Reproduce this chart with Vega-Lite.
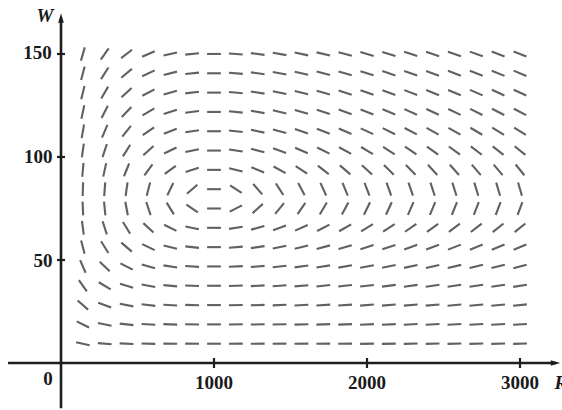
{
  "$schema": "https://vega.github.io/schema/vega-lite/v6.json",
  "width": 562,
  "height": 410,
  "padding": 0,
  "autosize": {"type": "none"},
  "config": {"view": {"stroke": null}, "background": "white"},
  "datasets": {
    "field": [
      {"W":9.375,"R":142.9,"rot":12.1},{"W":9.375,"R":285.7,"rot":5.1},{"W":9.375,"R":428.6,"rot":2.7},{"W":9.375,"R":571.4,"rot":1.5},{"W":9.375,"R":714.3,"rot":0.8},{"W":9.375,"R":857.1,"rot":0.3},{"W":9.375,"R":1000,"rot":0},{"W":9.375,"R":1142.9,"rot":-0.3},{"W":9.375,"R":1285.7,"rot":-0.5},{"W":9.375,"R":1428.6,"rot":-0.6},{"W":9.375,"R":1571.4,"rot":-0.7},{"W":9.375,"R":1714.3,"rot":-0.9},{"W":9.375,"R":1857.1,"rot":-0.9},{"W":9.375,"R":2000,"rot":-1},{"W":9.375,"R":2142.9,"rot":-1.1},{"W":9.375,"R":2285.7,"rot":-1.2},{"W":9.375,"R":2428.6,"rot":-1.2},{"W":9.375,"R":2571.4,"rot":-1.3},{"W":9.375,"R":2714.3,"rot":-1.3},{"W":9.375,"R":2857.1,"rot":-1.3},{"W":9.375,"R":3000,"rot":-1.4},
      {"W":18.75,"R":142.9,"rot":26.3},{"W":18.75,"R":285.7,"rot":11.6},{"W":18.75,"R":428.6,"rot":6.3},{"W":18.75,"R":571.4,"rot":3.5},{"W":18.75,"R":714.3,"rot":1.9},{"W":18.75,"R":857.1,"rot":0.8},{"W":18.75,"R":1000,"rot":0},{"W":18.75,"R":1142.9,"rot":-0.6},{"W":18.75,"R":1285.7,"rot":-1.1},{"W":18.75,"R":1428.6,"rot":-1.4},{"W":18.75,"R":1571.4,"rot":-1.7},{"W":18.75,"R":1714.3,"rot":-2},{"W":18.75,"R":1857.1,"rot":-2.2},{"W":18.75,"R":2000,"rot":-2.4},{"W":18.75,"R":2142.9,"rot":-2.5},{"W":18.75,"R":2285.7,"rot":-2.7},{"W":18.75,"R":2428.6,"rot":-2.8},{"W":18.75,"R":2571.4,"rot":-2.9},{"W":18.75,"R":2714.3,"rot":-3},{"W":18.75,"R":2857.1,"rot":-3.1},{"W":18.75,"R":3000,"rot":-3.2},
      {"W":28.125,"R":142.9,"rot":41.2},{"W":28.125,"R":285.7,"rot":20.1},{"W":28.125,"R":428.6,"rot":11},{"W":28.125,"R":571.4,"rot":6.3},{"W":28.125,"R":714.3,"rot":3.3},{"W":28.125,"R":857.1,"rot":1.4},{"W":28.125,"R":1000,"rot":0},{"W":28.125,"R":1142.9,"rot":-1},{"W":28.125,"R":1285.7,"rot":-1.9},{"W":28.125,"R":1428.6,"rot":-2.5},{"W":28.125,"R":1571.4,"rot":-3},{"W":28.125,"R":1714.3,"rot":-3.5},{"W":28.125,"R":1857.1,"rot":-3.9},{"W":28.125,"R":2000,"rot":-4.2},{"W":28.125,"R":2142.9,"rot":-4.5},{"W":28.125,"R":2285.7,"rot":-4.7},{"W":28.125,"R":2428.6,"rot":-4.9},{"W":28.125,"R":2571.4,"rot":-5.1},{"W":28.125,"R":2714.3,"rot":-5.3},{"W":28.125,"R":2857.1,"rot":-5.4},{"W":28.125,"R":3000,"rot":-5.6},
      {"W":37.5,"R":142.9,"rot":55},{"W":37.5,"R":285.7,"rot":30.7},{"W":37.5,"R":428.6,"rot":17.6},{"W":37.5,"R":571.4,"rot":10.1},{"W":37.5,"R":714.3,"rot":5.4},{"W":37.5,"R":857.1,"rot":2.3},{"W":37.5,"R":1000,"rot":0},{"W":37.5,"R":1142.9,"rot":-1.7},{"W":37.5,"R":1285.7,"rot":-3},{"W":37.5,"R":1428.6,"rot":-4.1},{"W":37.5,"R":1571.4,"rot":-4.9},{"W":37.5,"R":1714.3,"rot":-5.7},{"W":37.5,"R":1857.1,"rot":-6.3},{"W":37.5,"R":2000,"rot":-6.8},{"W":37.5,"R":2142.9,"rot":-7.2},{"W":37.5,"R":2285.7,"rot":-7.6},{"W":37.5,"R":2428.6,"rot":-8},{"W":37.5,"R":2571.4,"rot":-8.3},{"W":37.5,"R":2714.3,"rot":-8.5},{"W":37.5,"R":2857.1,"rot":-8.8},{"W":37.5,"R":3000,"rot":-9},
      {"W":46.875,"R":142.9,"rot":66.4},{"W":46.875,"R":285.7,"rot":43.6},{"W":46.875,"R":428.6,"rot":26.9},{"W":46.875,"R":571.4,"rot":16},{"W":46.875,"R":714.3,"rot":8.7},{"W":46.875,"R":857.1,"rot":3.6},{"W":46.875,"R":1000,"rot":0},{"W":46.875,"R":1142.9,"rot":-2.7},{"W":46.875,"R":1285.7,"rot":-4.8},{"W":46.875,"R":1428.6,"rot":-6.5},{"W":46.875,"R":1571.4,"rot":-7.9},{"W":46.875,"R":1714.3,"rot":-9},{"W":46.875,"R":1857.1,"rot":-10},{"W":46.875,"R":2000,"rot":-10.8},{"W":46.875,"R":2142.9,"rot":-11.5},{"W":46.875,"R":2285.7,"rot":-12.1},{"W":46.875,"R":2428.6,"rot":-12.6},{"W":46.875,"R":2571.4,"rot":-13.1},{"W":46.875,"R":2714.3,"rot":-13.5},{"W":46.875,"R":2857.1,"rot":-13.9},{"W":46.875,"R":3000,"rot":-14.3},
      {"W":56.25,"R":142.9,"rot":75.4},{"W":56.25,"R":285.7,"rot":57.9},{"W":56.25,"R":428.6,"rot":40.4},{"W":56.25,"R":571.4,"rot":25.6},{"W":56.25,"R":714.3,"rot":14.3},{"W":56.25,"R":857.1,"rot":6.1},{"W":56.25,"R":1000,"rot":0},{"W":56.25,"R":1142.9,"rot":-4.6},{"W":56.25,"R":1285.7,"rot":-8.1},{"W":56.25,"R":1428.6,"rot":-10.8},{"W":56.25,"R":1571.4,"rot":-13.1},{"W":56.25,"R":1714.3,"rot":-14.9},{"W":56.25,"R":1857.1,"rot":-16.4},{"W":56.25,"R":2000,"rot":-17.7},{"W":56.25,"R":2142.9,"rot":-18.8},{"W":56.25,"R":2285.7,"rot":-19.7},{"W":56.25,"R":2428.6,"rot":-20.6},{"W":56.25,"R":2571.4,"rot":-21.3},{"W":56.25,"R":2714.3,"rot":-21.9},{"W":56.25,"R":2857.1,"rot":-22.5},{"W":56.25,"R":3000,"rot":-23},
      {"W":65.625,"R":142.9,"rot":82.3},{"W":65.625,"R":285.7,"rot":72},{"W":65.625,"R":428.6,"rot":58.6},{"W":65.625,"R":571.4,"rot":42.7},{"W":65.625,"R":714.3,"rot":26.2},{"W":65.625,"R":857.1,"rot":11.6},{"W":65.625,"R":1000,"rot":0},{"W":65.625,"R":1142.9,"rot":-8.7},{"W":65.625,"R":1285.7,"rot":-15.3},{"W":65.625,"R":1428.6,"rot":-20.3},{"W":65.625,"R":1571.4,"rot":-24.1},{"W":65.625,"R":1714.3,"rot":-27.1},{"W":65.625,"R":1857.1,"rot":-29.6},{"W":65.625,"R":2000,"rot":-31.6},{"W":65.625,"R":2142.9,"rot":-33.2},{"W":65.625,"R":2285.7,"rot":-34.7},{"W":65.625,"R":2428.6,"rot":-35.9},{"W":65.625,"R":2571.4,"rot":-36.9},{"W":65.625,"R":2714.3,"rot":-37.8},{"W":65.625,"R":2857.1,"rot":-38.6},{"W":65.625,"R":3000,"rot":-39.3},
      {"W":75,"R":142.9,"rot":87.6},{"W":75,"R":285.7,"rot":84.3},{"W":75,"R":428.6,"rot":79.5},{"W":75,"R":571.4,"rot":71.7},{"W":75,"R":714.3,"rot":58.3},{"W":75,"R":857.1,"rot":34},{"W":75,"R":1000,"rot":0},{"W":75,"R":1142.9,"rot":-26.8},{"W":75,"R":1285.7,"rot":-41.9},{"W":75,"R":1428.6,"rot":-50.5},{"W":75,"R":1571.4,"rot":-55.8},{"W":75,"R":1714.3,"rot":-59.3},{"W":75,"R":1857.1,"rot":-61.8},{"W":75,"R":2000,"rot":-63.7},{"W":75,"R":2142.9,"rot":-65.1},{"W":75,"R":2285.7,"rot":-66.3},{"W":75,"R":2428.6,"rot":-67.2},{"W":75,"R":2571.4,"rot":-68},{"W":75,"R":2714.3,"rot":-68.6},{"W":75,"R":2857.1,"rot":-69.2},{"W":75,"R":3000,"rot":-69.6},
      {"W":84.375,"R":142.9,"rot":-88.2},{"W":84.375,"R":285.7,"rot":-85.6},{"W":84.375,"R":428.6,"rot":-81.8},{"W":84.375,"R":571.4,"rot":-75.6},{"W":84.375,"R":714.3,"rot":-64.3},{"W":84.375,"R":857.1,"rot":-40.9},{"W":84.375,"R":1000,"rot":0},{"W":84.375,"R":1142.9,"rot":33},{"W":84.375,"R":1285.7,"rot":49.1},{"W":84.375,"R":1428.6,"rot":57.3},{"W":84.375,"R":1571.4,"rot":62.1},{"W":84.375,"R":1714.3,"rot":65.2},{"W":84.375,"R":1857.1,"rot":67.4},{"W":84.375,"R":2000,"rot":68.9},{"W":84.375,"R":2142.9,"rot":70.1},{"W":84.375,"R":2285.7,"rot":71.1},{"W":84.375,"R":2428.6,"rot":71.9},{"W":84.375,"R":2571.4,"rot":72.5},{"W":84.375,"R":2714.3,"rot":73.1},{"W":84.375,"R":2857.1,"rot":73.5},{"W":84.375,"R":3000,"rot":73.9},
      {"W":93.75,"R":142.9,"rot":-84.8},{"W":93.75,"R":285.7,"rot":-77.7},{"W":93.75,"R":428.6,"rot":-67.8},{"W":93.75,"R":571.4,"rot":-54},{"W":93.75,"R":714.3,"rot":-36.3},{"W":93.75,"R":857.1,"rot":-17},{"W":93.75,"R":1000,"rot":0},{"W":93.75,"R":1142.9,"rot":12.9},{"W":93.75,"R":1285.7,"rot":22.2},{"W":93.75,"R":1428.6,"rot":28.9},{"W":93.75,"R":1571.4,"rot":33.7},{"W":93.75,"R":1714.3,"rot":37.4},{"W":93.75,"R":1857.1,"rot":40.3},{"W":93.75,"R":2000,"rot":42.6},{"W":93.75,"R":2142.9,"rot":44.4},{"W":93.75,"R":2285.7,"rot":45.9},{"W":93.75,"R":2428.6,"rot":47.2},{"W":93.75,"R":2571.4,"rot":48.3},{"W":93.75,"R":2714.3,"rot":49.2},{"W":93.75,"R":2857.1,"rot":50},{"W":93.75,"R":3000,"rot":50.8},
      {"W":103.125,"R":142.9,"rot":-82.1},{"W":103.125,"R":285.7,"rot":-71.6},{"W":103.125,"R":428.6,"rot":-58},{"W":103.125,"R":571.4,"rot":-42},{"W":103.125,"R":714.3,"rot":-25.7},{"W":103.125,"R":857.1,"rot":-11.3},{"W":103.125,"R":1000,"rot":0},{"W":103.125,"R":1142.9,"rot":8.5},{"W":103.125,"R":1285.7,"rot":14.9},{"W":103.125,"R":1428.6,"rot":19.8},{"W":103.125,"R":1571.4,"rot":23.6},{"W":103.125,"R":1714.3,"rot":26.6},{"W":103.125,"R":1857.1,"rot":29},{"W":103.125,"R":2000,"rot":31},{"W":103.125,"R":2142.9,"rot":32.6},{"W":103.125,"R":2285.7,"rot":34},{"W":103.125,"R":2428.6,"rot":35.2},{"W":103.125,"R":2571.4,"rot":36.3},{"W":103.125,"R":2714.3,"rot":37.2},{"W":103.125,"R":2857.1,"rot":38},{"W":103.125,"R":3000,"rot":38.7},
      {"W":112.5,"R":142.9,"rot":-79.9},{"W":112.5,"R":285.7,"rot":-66.8},{"W":112.5,"R":428.6,"rot":-51.2},{"W":112.5,"R":571.4,"rot":-35},{"W":112.5,"R":714.3,"rot":-20.5},{"W":112.5,"R":857.1,"rot":-8.8},{"W":112.5,"R":1000,"rot":0},{"W":112.5,"R":1142.9,"rot":6.7},{"W":112.5,"R":1285.7,"rot":11.7},{"W":112.5,"R":1428.6,"rot":15.6},{"W":112.5,"R":1571.4,"rot":18.7},{"W":112.5,"R":1714.3,"rot":21.2},{"W":112.5,"R":1857.1,"rot":23.3},{"W":112.5,"R":2000,"rot":25},{"W":112.5,"R":2142.9,"rot":26.4},{"W":112.5,"R":2285.7,"rot":27.7},{"W":112.5,"R":2428.6,"rot":28.7},{"W":112.5,"R":2571.4,"rot":29.7},{"W":112.5,"R":2714.3,"rot":30.5},{"W":112.5,"R":2857.1,"rot":31.2},{"W":112.5,"R":3000,"rot":31.9},
      {"W":121.875,"R":142.9,"rot":-78},{"W":121.875,"R":285.7,"rot":-63},{"W":121.875,"R":428.6,"rot":-46.2},{"W":121.875,"R":571.4,"rot":-30.5},{"W":121.875,"R":714.3,"rot":-17.4},{"W":121.875,"R":857.1,"rot":-7.4},{"W":121.875,"R":1000,"rot":0},{"W":121.875,"R":1142.9,"rot":5.6},{"W":121.875,"R":1285.7,"rot":9.9},{"W":121.875,"R":1428.6,"rot":13.2},{"W":121.875,"R":1571.4,"rot":15.9},{"W":121.875,"R":1714.3,"rot":18.1},{"W":121.875,"R":1857.1,"rot":19.9},{"W":121.875,"R":2000,"rot":21.4},{"W":121.875,"R":2142.9,"rot":22.7},{"W":121.875,"R":2285.7,"rot":23.8},{"W":121.875,"R":2428.6,"rot":24.8},{"W":121.875,"R":2571.4,"rot":25.6},{"W":121.875,"R":2714.3,"rot":26.3},{"W":121.875,"R":2857.1,"rot":27},{"W":121.875,"R":3000,"rot":27.6},
      {"W":131.25,"R":142.9,"rot":-76.4},{"W":131.25,"R":285.7,"rot":-59.9},{"W":131.25,"R":428.6,"rot":-42.6},{"W":131.25,"R":571.4,"rot":-27.4},{"W":131.25,"R":714.3,"rot":-15.4},{"W":131.25,"R":857.1,"rot":-6.6},{"W":131.25,"R":1000,"rot":0},{"W":131.25,"R":1142.9,"rot":4.9},{"W":131.25,"R":1285.7,"rot":8.7},{"W":131.25,"R":1428.6,"rot":11.7},{"W":131.25,"R":1571.4,"rot":14.1},{"W":131.25,"R":1714.3,"rot":16},{"W":131.25,"R":1857.1,"rot":17.7},{"W":131.25,"R":2000,"rot":19},{"W":131.25,"R":2142.9,"rot":20.2},{"W":131.25,"R":2285.7,"rot":21.2},{"W":131.25,"R":2428.6,"rot":22.1},{"W":131.25,"R":2571.4,"rot":22.9},{"W":131.25,"R":2714.3,"rot":23.5},{"W":131.25,"R":2857.1,"rot":24.1},{"W":131.25,"R":3000,"rot":24.7},
      {"W":140.625,"R":142.9,"rot":-75.1},{"W":140.625,"R":285.7,"rot":-57.4},{"W":140.625,"R":428.6,"rot":-39.8},{"W":140.625,"R":571.4,"rot":-25.1},{"W":140.625,"R":714.3,"rot":-14},{"W":140.625,"R":857.1,"rot":-5.9},{"W":140.625,"R":1000,"rot":0},{"W":140.625,"R":1142.9,"rot":4.5},{"W":140.625,"R":1285.7,"rot":7.9},{"W":140.625,"R":1428.6,"rot":10.6},{"W":140.625,"R":1571.4,"rot":12.8},{"W":140.625,"R":1714.3,"rot":14.6},{"W":140.625,"R":1857.1,"rot":16.1},{"W":140.625,"R":2000,"rot":17.4},{"W":140.625,"R":2142.9,"rot":18.4},{"W":140.625,"R":2285.7,"rot":19.4},{"W":140.625,"R":2428.6,"rot":20.2},{"W":140.625,"R":2571.4,"rot":20.9},{"W":140.625,"R":2714.3,"rot":21.5},{"W":140.625,"R":2857.1,"rot":22.1},{"W":140.625,"R":3000,"rot":22.6},
      {"W":150,"R":142.9,"rot":-73.9},{"W":150,"R":285.7,"rot":-55.3},{"W":150,"R":428.6,"rot":-37.6},{"W":150,"R":571.4,"rot":-23.4},{"W":150,"R":714.3,"rot":-13},{"W":150,"R":857.1,"rot":-5.5},{"W":150,"R":1000,"rot":0},{"W":150,"R":1142.9,"rot":4.1},{"W":150,"R":1285.7,"rot":7.3},{"W":150,"R":1428.6,"rot":9.8},{"W":150,"R":1571.4,"rot":11.9},{"W":150,"R":1714.3,"rot":13.5},{"W":150,"R":1857.1,"rot":14.9},{"W":150,"R":2000,"rot":16.1},{"W":150,"R":2142.9,"rot":17.1},{"W":150,"R":2285.7,"rot":18},{"W":150,"R":2428.6,"rot":18.8},{"W":150,"R":2571.4,"rot":19.4},{"W":150,"R":2714.3,"rot":20},{"W":150,"R":2857.1,"rot":20.6},{"W":150,"R":3000,"rot":21.1}
    ],
    "axisLines": [
      {"R": -346, "R2": 3235, "W": 0, "W2": 0},
      {"R": 0, "R2": 0, "W": -22, "W2": 167}
    ],
    "xTicks": [{"R": 1000, "W": 0}, {"R": 2000, "W": 0}, {"R": 3000, "W": 0}],
    "yTicks": [{"R": 0, "W": 50}, {"R": 0, "W": 100}, {"R": 0, "W": 150}],
    "xArrow": [{"R": 3232, "W": 0}],
    "yArrow": [{"R": 0, "W": 167.5}],
    "xLabels": [
      {"R": 1000, "W": -9.7, "label": "1000"},
      {"R": 2000, "W": -9.7, "label": "2000"},
      {"R": 3000, "W": -9.7, "label": "3000"},
      {"R": -85, "W": -7.8, "label": "0"}
    ],
    "yLabels": [
      {"R": -56, "W": 49.5, "label": "50"},
      {"R": -56, "W": 100, "label": "100"},
      {"R": -60, "W": 150.5, "label": "150"}
    ],
    "wLabel": [{"R": -105, "W": 168.5, "label": "W"}],
    "rLabel": [{"R": 3226, "W": -9.7, "label": "R"}]
  },
  "encoding": {
    "x": {"field": "R", "type": "quantitative", "scale": {"domain": [-398.7, 3274.5], "nice": false, "zero": false}, "axis": null},
    "y": {"field": "W", "type": "quantitative", "scale": {"domain": [-22.8, 176.2], "nice": false, "zero": false}, "axis": null}
  },
  "layer": [
    {
      "data": {"name": "field"},
      "mark": {"type": "point", "shape": "M-1,0L1,0", "filled": false, "stroke": "#505050", "strokeWidth": 2.1, "size": 190, "opacity": 0.9},
      "encoding": {"angle": {"field": "rot", "type": "quantitative", "scale": null}}
    },
    {
      "data": {"name": "axisLines"},
      "mark": {"type": "rule", "color": "#1e1e1e", "strokeWidth": 2.6},
      "encoding": {
        "x2": {"field": "R2"},
        "y2": {"field": "W2"}
      }
    },
    {
      "data": {"name": "xTicks"},
      "mark": {"type": "point", "shape": "M0,-1L0,1", "filled": false, "stroke": "#1e1e1e", "strokeWidth": 2.2, "size": 100, "opacity": 1}
    },
    {
      "data": {"name": "yTicks"},
      "mark": {"type": "point", "shape": "M-1,0L1,0", "filled": false, "stroke": "#1e1e1e", "strokeWidth": 2.2, "size": 64, "opacity": 1}
    },
    {
      "data": {"name": "xArrow"},
      "mark": {"type": "point", "shape": "M1,0L-1,-0.6L-1,0.6Z", "filled": true, "color": "#1e1e1e", "size": 90, "opacity": 1}
    },
    {
      "data": {"name": "yArrow"},
      "mark": {"type": "point", "shape": "M0,-1L-0.6,1L0.6,1Z", "filled": true, "color": "#1e1e1e", "size": 90, "opacity": 1}
    },
    {
      "data": {"name": "xLabels"},
      "mark": {"type": "text", "font": "Liberation Serif", "fontSize": 19, "fontWeight": "bold", "color": "#1a1a1a", "align": "center", "baseline": "middle"},
      "encoding": {"text": {"field": "label"}}
    },
    {
      "data": {"name": "yLabels"},
      "mark": {"type": "text", "font": "Liberation Serif", "fontSize": 19, "fontWeight": "bold", "color": "#1a1a1a", "align": "right", "baseline": "middle"},
      "encoding": {"text": {"field": "label"}}
    },
    {
      "data": {"name": "wLabel"},
      "mark": {"type": "text", "font": "Liberation Serif", "fontSize": 19, "fontWeight": "bold", "fontStyle": "italic", "color": "#1a1a1a", "align": "center", "baseline": "middle"},
      "encoding": {"text": {"field": "label"}}
    },
    {
      "data": {"name": "rLabel"},
      "mark": {"type": "text", "font": "Liberation Serif", "fontSize": 19, "fontWeight": "bold", "fontStyle": "italic", "color": "#1a1a1a", "align": "left", "baseline": "middle"},
      "encoding": {"text": {"field": "label"}}
    }
  ]
}
